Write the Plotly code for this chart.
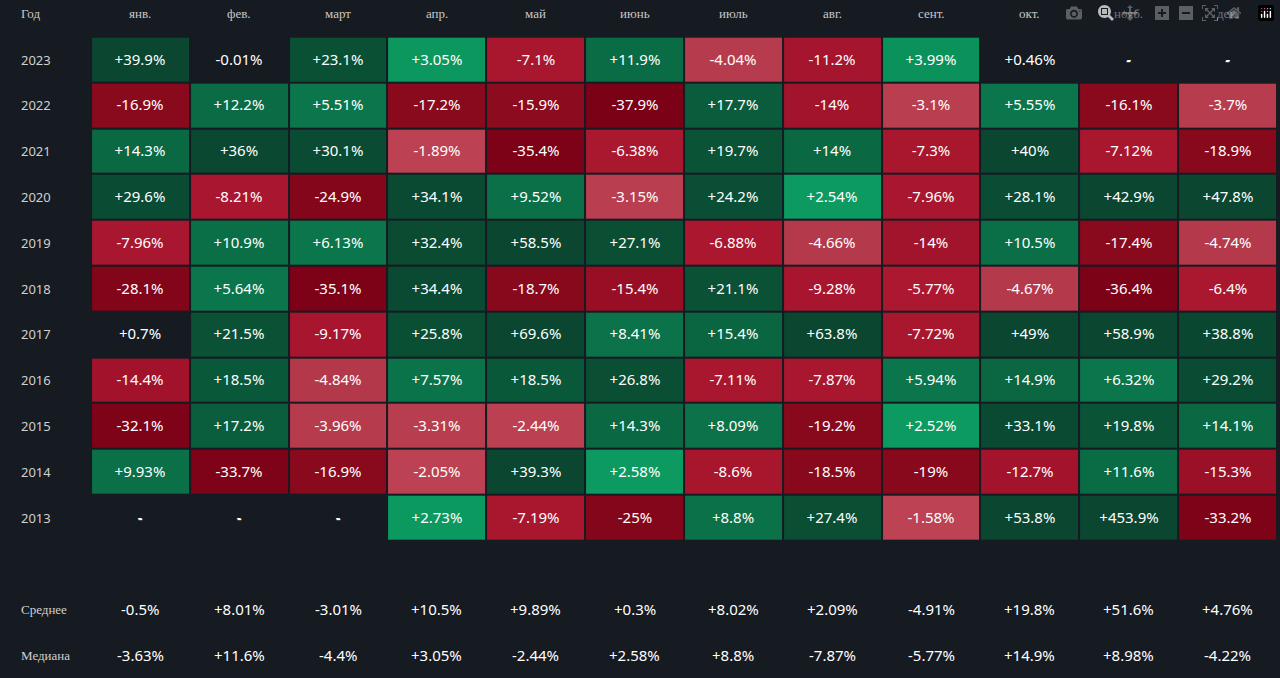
import plotly.graph_objects as go

months = ["янв.", "фев.", "март", "апр.", "май", "июнь", "июль", "авг.", "сент.", "окт.", "нояб.", "дек."]
years = ["2023", "2022", "2021", "2020", "2019", "2018", "2017", "2016", "2015", "2014", "2013"]
N = None
v2023 = [39.9, -0.01, 23.1, 3.05, -7.1, 11.9, -4.04, -11.2, 3.99, 0.46, N, N]
v2022 = [-16.9, 12.2, 5.51, -17.2, -15.9, -37.9, 17.7, -14, -3.1, 5.55, -16.1, -3.7]
v2021 = [14.3, 36, 30.1, -1.89, -35.4, -6.38, 19.7, 14, -7.3, 40, -7.12, -18.9]
v2020 = [29.6, -8.21, -24.9, 34.1, 9.52, -3.15, 24.2, 2.54, -7.96, 28.1, 42.9, 47.8]
v2019 = [-7.96, 10.9, 6.13, 32.4, 58.5, 27.1, -6.88, -4.66, -14, 10.5, -17.4, -4.74]
v2018 = [-28.1, 5.64, -35.1, 34.4, -18.7, -15.4, 21.1, -9.28, -5.77, -4.67, -36.4, -6.4]
v2017 = [0.7, 21.5, -9.17, 25.8, 69.6, 8.41, 15.4, 63.8, -7.72, 49, 58.9, 38.8]
v2016 = [-14.4, 18.5, -4.84, 7.57, 18.5, 26.8, -7.11, -7.87, 5.94, 14.9, 6.32, 29.2]
v2015 = [-32.1, 17.2, -3.96, -3.31, -2.44, 14.3, 8.09, -19.2, 2.52, 33.1, 19.8, 14.1]
v2014 = [9.93, -33.7, -16.9, -2.05, 39.3, 2.58, -8.6, -18.5, -19, -12.7, 11.6, -15.3]
v2013 = [N, N, N, 2.73, -7.19, -25, 8.8, 27.4, -1.58, 53.8, 453.9, -33.2]
mean_vals = [-0.5, 8.01, -3.01, 10.5, 9.89, 0.3, 8.02, 2.09, -4.91, 19.8, 51.6, 4.76]
median_vals = [-3.63, 11.6, -4.4, 3.05, -2.44, 2.58, 8.8, -7.87, -5.77, 14.9, 8.98, -4.22]
summary_labels = ["Среднее", "Медиана"]

rows = [v2023, v2022, v2021, v2020, v2019, v2018, v2017, v2016, v2015, v2014, v2013]

def fmt(v):
    if v is None:
        return "-"
    s = f"{v:g}"
    return ("+" + s if v > 0 else s) + "%"

z, text = [], []
for r in rows:
    z.append([None if v is None else max(-40, min(40, v)) for v in r])
    text.append([fmt(v) for v in r])
ys = list(range(len(rows)))

BG = "#161a21"
L = 40.0
def t(v):
    return (v + L) / (2 * L)
cs = [
    [t(-40), "#7a0016"], [t(-16), "#8a0a1d"], [t(-15), "#a1132b"], [t(-5.5), "#ab1830"],
    [t(-5), "#b3394a"], [t(-1.01), "#bf4455"], [t(-1), BG], [t(1), BG],
    [t(1.01), "#0ea265"], [t(4), "#0b925b"], [t(5), "#0b774c"], [t(15), "#0a6742"],
    [t(20), "#0a5236"], [t(40), "#0a4630"],
]
FS = 15

fig = go.Figure()
fig.add_trace(go.Heatmap(
    z=z, x=list(range(12)), y=ys, text=text, texttemplate="%{text}",
    textfont=dict(color="white", size=FS, family="Noto Sans"),
    colorscale=cs, zmin=-L, zmax=L, showscale=False, xgap=2, ygap=2,
    hoverinfo="skip",
))
for i, r in enumerate(rows):
    for j, v in enumerate(r):
        if v is None:
            fig.add_annotation(x=j, y=i, text="-", showarrow=False,
                               font=dict(color="white", size=FS, family="Noto Sans"))
for k, vals in enumerate([mean_vals, median_vals]):
    yy = len(rows) + 1 + k
    for j, v in enumerate(vals):
        fig.add_annotation(x=j, y=yy, text=fmt(v), showarrow=False,
                           font=dict(color="white", size=FS, family="Noto Sans"))
    fig.add_annotation(x=0.015, xref="paper", y=yy, text=summary_labels[k], showarrow=False,
                       xanchor="left", font=dict(color="#d0d0d0", size=13, family="Liberation Serif"))
for j, m in enumerate(months):
    fig.add_annotation(x=j, y=-1, text=m, showarrow=False,
                       font=dict(color="#c8c8c8", size=13, family="Liberation Serif"))
fig.add_annotation(x=0.015, xref="paper", y=-1, text="Год", showarrow=False, xanchor="left",
                   font=dict(color="#c8c8c8", size=13, family="Liberation Serif"))
for i, yr in enumerate(years):
    fig.add_annotation(x=0.015, xref="paper", y=i, text=yr, showarrow=False, xanchor="left",
                       font=dict(color="#d0d0d0", size=13, family="Noto Sans"))

fig.update_layout(
    width=1280, height=678, paper_bgcolor=BG, plot_bgcolor=BG,
    margin=dict(l=0, r=3, t=0, b=0), showlegend=False,
    xaxis=dict(range=[-0.5 - 91 / 98.8, 11.5], visible=False, domain=[0, 1]),
    yaxis=dict(range=[13.5, -1.3], visible=False),
)
fig.write_html("out.html", post_script="document.body.style.margin='0';document.body.style.background='#161a21';document.body.style.overflow='hidden';")
